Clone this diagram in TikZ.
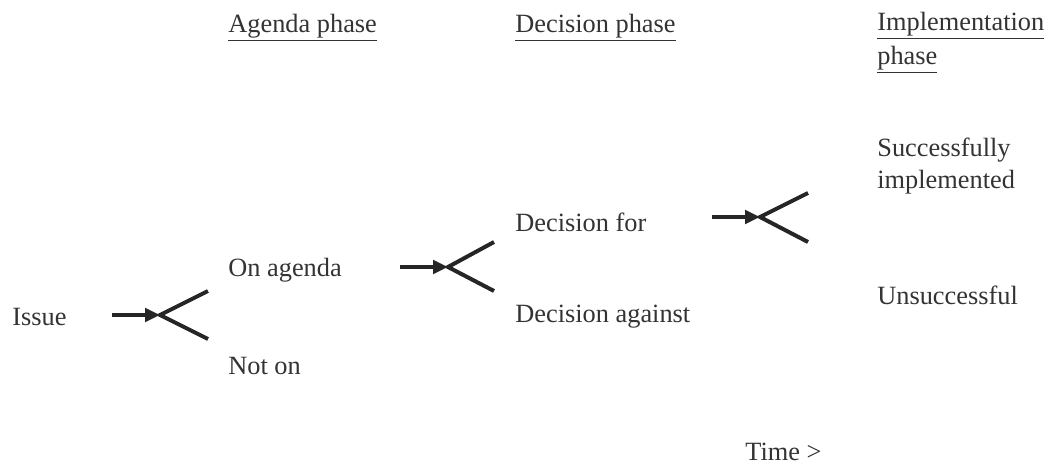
\documentclass[tikz,border=0pt]{standalone}
\usepackage{fontspec}
\setmainfont{Liberation Serif}
\usepackage{tikz}
\usetikzlibrary{positioning, arrows.meta}

\begin{document}
\begin{tikzpicture}[
  x=0.02cm, y=-0.02cm,
  font=\fontsize{15}{18.2}\selectfont,
  lbl/.style={anchor=west, inner sep=0pt, align=left, text=black!80},
  branch/.style={line width=0.08cm, draw=black!85},
  feed/.style={branch, -{Triangle[length=0.3cm, width=0.27cm]}},
]
  \useasboundingbox (0,0) rectangle (1048,467);

  % Phase headings
  \node[lbl] (ha) at (228,28) {\underline{Agenda phase}};
  \node[lbl] (hd) at (515,28) {\underline{Decision phase}};
  \node[lbl] (hi) at (877,43) {\underline{Implementation}\\[1pt]\underline{phase}};

  % Outcomes
  \node[lbl] (issue) at (12,317)  {Issue};
  \node[lbl] (on)    at (228,270) {On agenda};
  \node[lbl] (noton) at (228,366) {Not on};
  \node[lbl] (dfor)  at (515,222) {Decision for};
  \node[lbl] (dagn)  at (515,317) {Decision against};
  \node[lbl] (succ)  at (877,166) {Successfully\\implemented};
  \node[lbl] (fail)  at (877,295) {Unsuccessful};
  \node[lbl] (time)  at (745,452) {Time >};

  % Forks
  \coordinate (in1) at (112,315);  \coordinate (f1) at (160,315);
  \coordinate (a1) at (208,291);   \coordinate (b1) at (208,339);
  \coordinate (in2) at (400,267);  \coordinate (f2) at (448,267);
  \coordinate (a2) at (494,242);   \coordinate (b2) at (494,291);
  \coordinate (in3) at (712,217);  \coordinate (f3) at (760,217);
  \coordinate (a3) at (808,193);   \coordinate (b3) at (808,242);

  \foreach \k in {1,2,3} {
    \draw[feed] (in\k) -- (f\k);
    \draw[branch] (a\k) -- (f\k) -- (b\k);
  }
\end{tikzpicture}
\end{document}
